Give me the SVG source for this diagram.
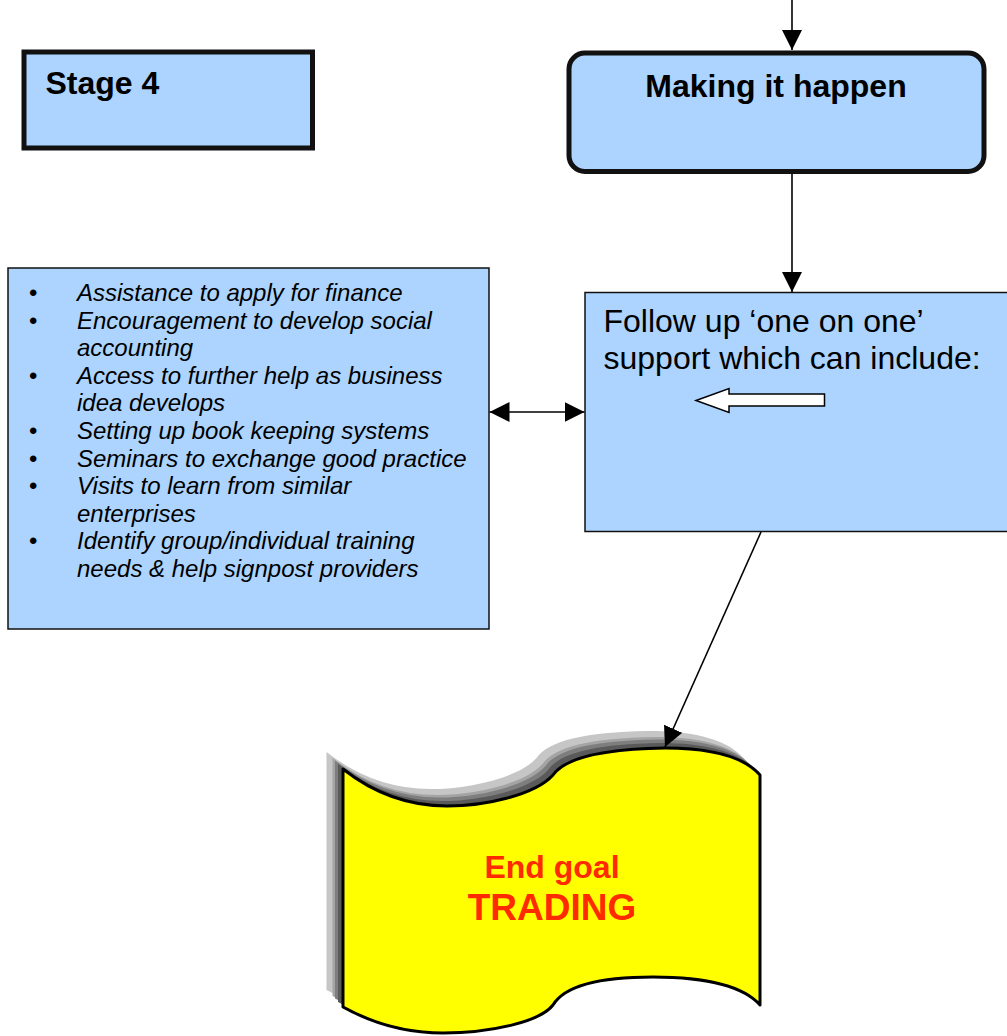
<svg xmlns="http://www.w3.org/2000/svg" width="1007" height="1036" viewBox="0 0 1007 1036">
  <defs>
    <style>
      .box { fill: #acd4ff; stroke: #111; }
      .heavy { stroke-width: 5; }
      .thin { stroke-width: 1.5; }
      .txt { font-family: "Liberation Sans", Arial, Helvetica, sans-serif; fill: #000; }
      .bold { font-weight: bold; }
      .list { font-size: 24px; font-style: italic; }
      .bullet { font-size: 24px; font-style: normal; }
      .goal { fill: #ff2a00; font-weight: bold; text-anchor: middle; }
      .conn { stroke: #000; stroke-width: 1.6; fill: none; }
      .shade { stroke: none; }
    </style>
    <marker id="arrow" viewBox="0 0 20 20" refX="20" refY="10" markerWidth="20" markerHeight="20" markerUnits="userSpaceOnUse" orient="auto-start-reverse">
      <path d="M0,0 L20,10 L0,20 Z" fill="#000"/>
    </marker>
    <path id="flag-shape" d="M343,769 Q390,806 447,806 C485,806 535,795 553,775 C565,758 600,749 665,748 C715,748 745,758 760,775 L760,1005 C745,988 710,977 653,977 C600,977 565,985 553,1005 C540,1022 490,1033 443,1033 Q390,1033 343,1007 Z"/>
    <filter id="soft" x="-5%" y="-5%" width="110%" height="110%">
      <feGaussianBlur stdDeviation="0.4"/>
    </filter>
  </defs>

  <!-- Stage label -->
  <g id="stage4">
    <rect class="box heavy" x="24" y="52" width="288.5" height="96"/>
    <text class="txt bold" x="45.5" y="94" font-size="32">Stage 4</text>
  </g>

  <!-- Making it happen -->
  <g id="making-it-happen">
    <rect class="box heavy" x="569" y="53" width="415" height="118.5" rx="16" ry="16"/>
    <text class="txt bold" x="776" y="97" font-size="32" text-anchor="middle">Making it happen</text>
  </g>

  <!-- Follow up support -->
  <g id="follow-up">
    <rect class="box thin" x="585" y="292.5" width="440" height="239"/>
    <text class="txt" x="603.5" y="332" font-size="32">Follow up ‘one on one’</text>
    <text class="txt" x="603.5" y="369" font-size="32">support which can include:</text>
    <polygon points="696,400.5 729,388.5 729,394 824.5,394 824.5,406 729,406 729,412.5" fill="#fff" stroke="#000" stroke-width="1.5"/>
  </g>

  <!-- Support list -->
  <g id="support-list">
    <rect class="box thin" x="8" y="268" width="481" height="361"/>
    <g class="txt bullet">
      <text x="29" y="301">•</text>
      <text x="29" y="328.6">•</text>
      <text x="29" y="383.8">•</text>
      <text x="29" y="439">•</text>
      <text x="29" y="466.6">•</text>
      <text x="29" y="494.2">•</text>
      <text x="29" y="549.4">•</text>
    </g>
    <g class="txt list">
      <text x="77" y="301">Assistance to apply for finance</text>
      <text x="77" y="328.6">Encouragement to develop social</text>
      <text x="77" y="356.2">accounting</text>
      <text x="77" y="383.8">Access to further help as business</text>
      <text x="77" y="411.4">idea develops</text>
      <text x="77" y="439">Setting up book keeping systems</text>
      <text x="77" y="466.6">Seminars to exchange good practice</text>
      <text x="77" y="494.2">Visits to learn from similar</text>
      <text x="77" y="521.8">enterprises</text>
      <text x="77" y="549.4">Identify group/individual training</text>
      <text x="77" y="577">needs &amp; help signpost providers</text>
    </g>
  </g>

  <!-- End goal banner with stepped 3D shading -->
  <g id="end-goal">
    <g filter="url(#soft)">
      <use href="#flag-shape" class="shade" fill="#c6c6c6" transform="translate(-16.5,-17)"/>
      <use href="#flag-shape" class="shade" fill="#a4a4a4" transform="translate(-10.5,-11)"/>
      <use href="#flag-shape" class="shade" fill="#7e7e7e" transform="translate(-8,-8.5)"/>
      <use href="#flag-shape" class="shade" fill="#5a5a5a" transform="translate(-5,-5)"/>
    </g>
    <use href="#flag-shape" fill="#ffff00" stroke="#000" stroke-width="3" stroke-linejoin="round"/>
    <text class="txt goal" x="552" y="878" font-size="32">End goal</text>
    <text class="txt goal" x="552" y="920" font-size="37">TRADING</text>
  </g>

  <!-- Connectors -->
  <g id="connectors">
    <line class="conn" x1="792" y1="0" x2="792" y2="50" marker-end="url(#arrow)"/>
    <line class="conn" x1="792" y1="174" x2="792" y2="292" marker-end="url(#arrow)"/>
    <line class="conn" x1="489.5" y1="412" x2="584.5" y2="412" marker-start="url(#arrow)" marker-end="url(#arrow)"/>
    <line class="conn" x1="761" y1="532" x2="665" y2="747" marker-end="url(#arrow)"/>
  </g>
</svg>
